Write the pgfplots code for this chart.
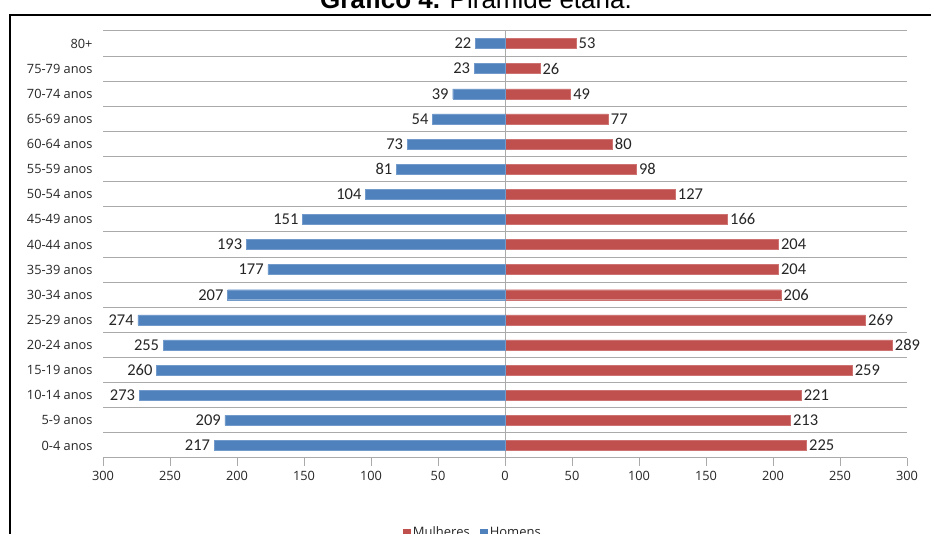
\documentclass[border=0pt]{standalone}
\usepackage{pgfplots}
\pgfplotsset{compat=1.18}
\usepackage{fontspec}
\setmainfont{Carlito}
\newfontfamily\arialfont{Liberation Sans}
\newfontfamily\lblfont{Open Sans}
\definecolor{homens}{HTML}{4F81BD}
\definecolor{mulheres}{HTML}{C0504D}
\definecolor{gridc}{RGB}{170,170,170}
\begin{document}
\begin{tikzpicture}[x=1pt,y=1pt]
\useasboundingbox (0,0) rectangle (931,534);
% frame
\draw[line width=2.4pt] (10,-10) -- (10,519) -- (940,519);
% title (partly cut by the page edge)
\node[anchor=base, inner sep=0pt] at (476,525.5) {\arialfont\fontsize{26}{30}\selectfont\textbf{Gráfico 4.} Pirâmide etária.};
\begin{axis}[
  at={(103pt,76pt)}, anchor=south west,
  scale only axis, width=804pt, height=427pt,
  xmin=-300, xmax=300, ymin=-0.5, ymax=16.5,
  xbar, bar width=10pt, bar shift=0pt,
  axis x line*=bottom, axis y line*=left,
  y axis line style={draw=none},
  x axis line style={gridc, line width=1pt},
  xtick={-300,-250,...,300},
  xticklabels={300,250,200,150,100,50,0,50,100,150,200,250,300},
  xtick style={gridc, line width=1pt},
  xtick align=outside, major tick length=8pt,
  ytick={0,...,16},
  yticklabels={0-4 anos,5-9 anos,10-14 anos,15-19 anos,20-24 anos,25-29 anos,30-34 anos,35-39 anos,40-44 anos,45-49 anos,50-54 anos,55-59 anos,60-64 anos,65-69 anos,70-74 anos,75-79 anos,80+},
  ytick style={draw=none},
  minor ytick={-0.5,0.5,...,16.5},
  minor tick length=0pt,
  yminorgrids,
  minor grid style={gridc, line width=1pt},
  extra x ticks={0}, extra x tick labels={},
  extra x tick style={grid=major, major grid style={gridc, line width=1pt}, major tick length=8pt},
  tick label style={font=\lblfont\fontsize{12.8}{14}\selectfont, text=black!85},
  yticklabel style={xshift=1pt},
  xticklabel style={yshift=-2pt},
  /pgf/number format/assume math mode=true,
  point meta=explicit,
  nodes near coords,
  nodes near coords style={font=\fontsize{16.5}{18}\selectfont, text=black!85, inner sep=2.5pt},
  legend style={at={(0.460,-0.175)}, anchor=center, draw=none, legend columns=2,
    font=\lblfont\fontsize{13}{15}\selectfont, text=black!85, /tikz/every even column/.append style={column sep=8pt}},
  legend image code/.code={\fill[#1, draw=none] (0pt,-4pt) rectangle (8pt,4pt);},
  clip=false,
]
\addplot[fill=mulheres, draw=mulheres!80!white, every node near coord/.append style={anchor=west}] coordinates {
(225,0) [225]
(213,1) [213]
(221,2) [221]
(259,3) [259]
(289,4) [289]
(269,5) [269]
(206,6) [206]
(204,7) [204]
(204,8) [204]
(166,9) [166]
(127,10) [127]
(98,11) [98]
(80,12) [80]
(77,13) [77]
(49,14) [49]
(26,15) [26]
(53,16) [53]
};
\addlegendentry{Mulheres}
\addplot[fill=homens, draw=homens!80!white, every node near coord/.append style={anchor=east, inner xsep=4pt}] coordinates {
(-217,0) [217]
(-209,1) [209]
(-273,2) [273]
(-260,3) [260]
(-255,4) [255]
(-274,5) [274]
(-207,6) [207]
(-177,7) [177]
(-193,8) [193]
(-151,9) [151]
(-104,10) [104]
(-81,11) [81]
(-73,12) [73]
(-54,13) [54]
(-39,14) [39]
(-23,15) [23]
(-22,16) [22]
};
\addlegendentry{Homens}
\end{axis}
\end{tikzpicture}
\end{document}
